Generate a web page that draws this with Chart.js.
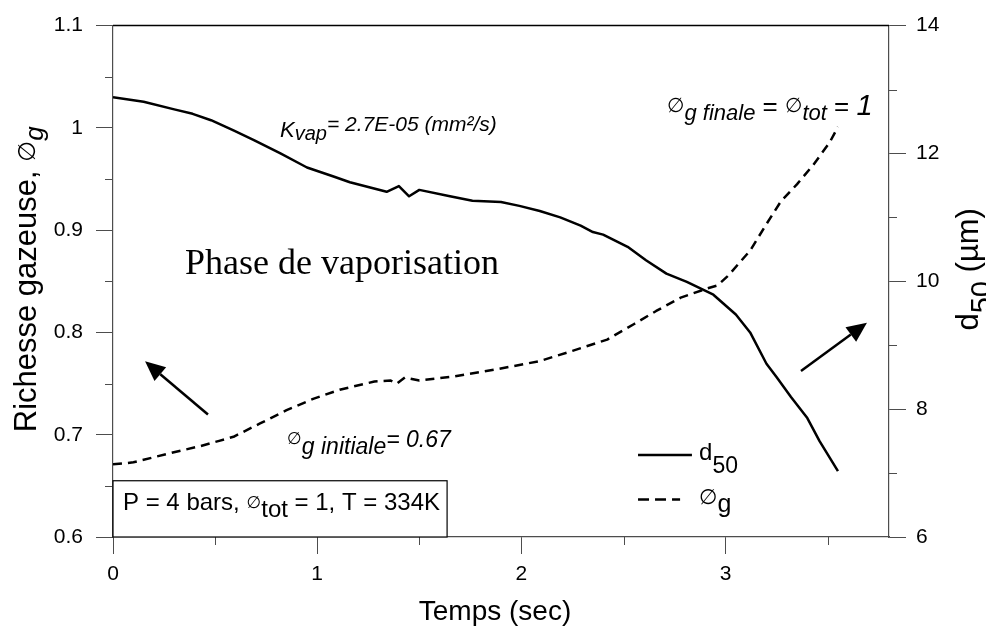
<!DOCTYPE html>
<html><head><meta charset="utf-8">
<script src="https://cdn.jsdelivr.net/npm/chart.js@4.4.1/dist/chart.umd.min.js"></script>
<style>html,body{margin:0;padding:0;background:#fff;overflow:hidden}canvas{display:block}</style>
</head><body>
<canvas id="c" width="986" height="630"></canvas>
<script>
// ---- data ----
const tD50 = [0, 0.15, 0.30, 0.39, 0.48, 0.59, 0.69, 0.82, 0.95, 1.08, 1.16, 1.34, 1.40, 1.45, 1.50, 1.65, 1.76, 1.90, 1.99, 2.09, 2.19, 2.29, 2.35, 2.40, 2.52, 2.61, 2.71, 2.81, 2.94, 3.05, 3.12, 3.20, 3.25, 3.32, 3.40, 3.46, 3.55];
const d50 = [12.88, 12.81, 12.69, 12.62, 12.52, 12.36, 12.21, 12.00, 11.78, 11.64, 11.55, 11.40, 11.49, 11.33, 11.43, 11.33, 11.26, 11.24, 11.18, 11.10, 11.00, 10.87, 10.77, 10.73, 10.54, 10.33, 10.12, 9.99, 9.79, 9.48, 9.20, 8.71, 8.50, 8.19, 7.86, 7.50, 7.03];
const tPhi = [0, 0.10, 0.26, 0.43, 0.52, 0.59, 0.72, 0.85, 0.98, 1.11, 1.28, 1.36, 1.39, 1.43, 1.50, 1.67, 1.88, 2.09, 2.25, 2.42, 2.55, 2.66, 2.78, 2.91, 2.96, 3.01, 3.12, 3.20, 3.27, 3.35, 3.43, 3.51, 3.55];
const phiG = [0.671, 0.673, 0.681, 0.689, 0.694, 0.698, 0.711, 0.724, 0.735, 0.744, 0.752, 0.753, 0.750, 0.756, 0.753, 0.757, 0.764, 0.772, 0.782, 0.793, 0.808, 0.821, 0.834, 0.843, 0.846, 0.855, 0.880, 0.906, 0.928, 0.945, 0.964, 0.986, 1.001];

const xTickValues = [0, 0.5, 1, 1.5, 2, 2.5, 3, 3.5];
const xTickLabels = ['0', '', '1', '', '2', '', '3', ''];
const leftTickValues = [0.6, 0.65, 0.7, 0.75, 0.8, 0.85, 0.9, 0.95, 1.0, 1.05, 1.1];
const leftTickLabels = ['0.6', '', '0.7', '', '0.8', '', '0.9', '', '1', '', '1.1'];
const rightTickValues = [6, 7, 8, 9, 10, 11, 12, 13, 14];
const rightTickLabels = ['6', '', '8', '', '10', '', '12', '', '14'];

// ---- styling ----
const SANS = "'Liberation Sans', Arial, sans-serif";
const SYM = "'DejaVu Sans', sans-serif";
const SERIF = "'Liberation Serif', 'Times New Roman', serif";
const AX = '#4d4d4d';
const MINOR_LEN = 8;

function rich(ctx, x, y, parts, rot, align) {
  ctx.save();
  ctx.translate(x, y);
  if (rot) ctx.rotate(rot);
  ctx.textBaseline = 'alphabetic';
  ctx.textAlign = 'left';
  ctx.fillStyle = '#000';
  let total = 0;
  for (const p of parts) { ctx.font = p.f; total += ctx.measureText(p.t).width + (p.dx || 0); }
  let cx = align === 'center' ? -total / 2 : 0;
  for (const p of parts) {
    ctx.font = p.f;
    cx += (p.dx || 0);
    ctx.fillText(p.t, cx, p.dy || 0);
    cx += ctx.measureText(p.t).width;
  }
  ctx.restore();
}

function arrow(ctx, x0, y0, x1, y1) {
  const ang = Math.atan2(y1 - y0, x1 - x0);
  const hl = 20, hw = 9;
  const bx = x1 - hl * Math.cos(ang), by = y1 - hl * Math.sin(ang);
  ctx.save();
  ctx.strokeStyle = '#000'; ctx.lineWidth = 2.5;
  ctx.beginPath(); ctx.moveTo(x0, y0); ctx.lineTo(bx, by); ctx.stroke();
  ctx.fillStyle = '#000';
  ctx.beginPath(); ctx.moveTo(x1, y1);
  ctx.lineTo(bx + hw * Math.sin(ang), by - hw * Math.cos(ang));
  ctx.lineTo(bx - hw * Math.sin(ang), by + hw * Math.cos(ang));
  ctx.closePath(); ctx.fill();
  ctx.restore();
}

const decor = {
  id: 'decor',
  afterDraw(chart) {
    const { ctx, chartArea: a, scales: { x, y, y1 } } = chart;
    const X = v => x.getPixelForValue(v), Y = v => y.getPixelForValue(v);
    // top frame line
    ctx.save();
    ctx.strokeStyle = '#000'; ctx.lineWidth = 1.5;
    ctx.beginPath(); ctx.moveTo(a.left, a.top); ctx.lineTo(a.right, a.top); ctx.stroke();
    // minor ticks
    ctx.strokeStyle = AX; ctx.lineWidth = 1;
    ctx.beginPath();
    xTickValues.forEach((v, i) => { if (!xTickLabels[i]) { const px = Math.round(X(v)) + 0.5; ctx.moveTo(px, a.bottom); ctx.lineTo(px, a.bottom + MINOR_LEN); } });
    leftTickValues.forEach((v, i) => { if (!leftTickLabels[i]) { const py = Math.round(Y(v)) + 0.5; ctx.moveTo(a.left, py); ctx.lineTo(a.left - MINOR_LEN, py); } });
    rightTickValues.forEach((v, i) => { if (!rightTickLabels[i]) { const py = Math.round(y1.getPixelForValue(v)) + 0.5; ctx.moveTo(a.right, py); ctx.lineTo(a.right + MINOR_LEN, py); } });
    ctx.stroke();
    ctx.restore();

    // parameter box
    const bx0 = a.left, by0 = Y(0.655), bx1 = X(1.636), by1 = a.bottom;
    ctx.save();
    ctx.fillStyle = '#fff'; ctx.fillRect(bx0, by0, bx1 - bx0, by1 - by0);
    ctx.strokeStyle = '#000'; ctx.lineWidth = 1.2; ctx.strokeRect(bx0, by0, bx1 - bx0, by1 - by0);
    ctx.restore();
    rich(ctx, X(0.049), Y(0.6261), [
      { t: 'P = 4 bars, ', f: `24px ${SANS}` },
      { t: '∅', f: `17px ${SYM}`, dy: -2 },
      { t: 'tot', f: `24px ${SANS}`, dy: 7 },
      { t: ' = 1, T = 334K', f: `24px ${SANS}` }
    ]);

    // annotations
    rich(ctx, X(0.818), Y(0.9967), [
      { t: 'K', f: `italic 22px ${SANS}`, dy: 6 },
      { t: 'vap', f: `italic 20px ${SANS}`, dy: 9 },
      { t: '= 2.7E-05 (mm²/s)', f: `italic 21px ${SANS}` }
    ]);
    rich(ctx, X(0.353), Y(0.8568), [{ t: 'Phase de vaporisation', f: `36px ${SERIF}` }]);
    rich(ctx, X(2.713), Y(1.0122), [
      { t: '∅', f: `20px ${SYM}`, dy: -3 },
      { t: 'g finale', f: `italic 22px ${SANS}`, dy: 5 },
      { t: ' = ', f: `26px ${SANS}` },
      { t: '∅', f: `20px ${SYM}`, dy: -3 },
      { t: 'tot', f: `italic 22px ${SANS}`, dy: 5 },
      { t: ' = ', f: `26px ${SANS}` },
      { t: '1', f: `italic 29px ${SANS}` }
    ]);
    rich(ctx, X(0.852), Y(0.6878), [
      { t: '∅', f: `17px ${SYM}`, dy: -3 },
      { t: 'g initiale', f: `italic 23px ${SANS}`, dy: 7 },
      { t: '= 0.67', f: `italic 23px ${SANS}` }
    ]);

    // arrows
    arrow(ctx, X(0.465), Y(0.7197), X(0.157), Y(0.7718));
    arrow(ctx, X(3.369), Y(0.7622), X(3.692), Y(0.8095));

    // legend
    ctx.save();
    ctx.strokeStyle = '#000'; ctx.lineWidth = 2.5;
    ctx.beginPath(); ctx.moveTo(X(2.571), Y(0.6801)); ctx.lineTo(X(2.835), Y(0.6801)); ctx.stroke();
    ctx.setLineDash([11, 6]);
    ctx.beginPath(); ctx.moveTo(X(2.571), Y(0.6367)); ctx.lineTo(X(2.777), Y(0.6367)); ctx.stroke();
    ctx.restore();
    rich(ctx, X(2.870), Y(0.6753), [
      { t: 'd', f: `24px ${SANS}` },
      { t: '50', f: `23px ${SANS}`, dy: 13 }
    ]);
    rich(ctx, X(2.870), Y(0.6319), [
      { t: '∅', f: `21px ${SYM}` },
      { t: 'g', f: `25px ${SANS}`, dy: 8 }
    ]);

    // axis titles
    const midY = (a.top + a.bottom) / 2;
    rich(ctx, a.left - 77, midY - 2, [
      { t: 'Richesse gazeuse, ', f: `31px ${SANS}` },
      { t: '∅', f: `24px ${SYM}`, dy: -1 },
      { t: 'g', f: `italic 26px ${SANS}`, dy: 7 }
    ], -Math.PI / 2, 'center');
    rich(ctx, a.right + 89, midY - 12, [
      { t: 'd', f: `31px ${SANS}` },
      { t: '50', f: `29px ${SANS}`, dy: 13 },
      { t: ' (µm)', f: `31px ${SANS}` }
    ], -Math.PI / 2, 'center');
    rich(ctx, (a.left + a.right) / 2 - 6, a.bottom + 83, [{ t: 'Temps (sec)', f: `28px ${SANS}` }], 0, 'center');
  }
};

function tickOpts(labels) {
  return {
    color: '#000',
    font: { family: SANS, size: 21 },
    autoSkip: false,
    maxRotation: 0,
    callback: (v, i) => labels[i]
  };
}
function gridOpts(labels) {
  return {
    drawOnChartArea: false,
    drawTicks: true,
    tickLength: 17,
    tickWidth: 1,
    tickColor: c => (labels[c.index] ? AX : 'rgba(0,0,0,0)')
  };
}

new Chart(document.getElementById('c'), {
  type: 'line',
  data: {
    datasets: [
      {
        label: 'd50',
        data: tD50.map((t, i) => ({ x: t, y: d50[i] })),
        yAxisID: 'y1',
        borderColor: '#000', borderWidth: 2.5, pointRadius: 0, tension: 0, fill: false,
        borderJoinStyle: 'round'
      },
      {
        label: 'phi_g',
        data: tPhi.map((t, i) => ({ x: t, y: phiG[i] })),
        yAxisID: 'y',
        borderColor: '#000', borderWidth: 2.5, borderDash: [9, 6], pointRadius: 0, tension: 0, fill: false,
        borderJoinStyle: 'round'
      }
    ]
  },
  options: {
    responsive: false,
    animation: false,
    devicePixelRatio: 1,
    layout: { padding: { top: 19, left: 0, right: 0, bottom: 0 } },
    plugins: { legend: { display: false }, tooltip: { enabled: false } },
    scales: {
      x: {
        type: 'linear', min: 0, max: 3.8,
        afterBuildTicks: s => { s.ticks = xTickValues.map(v => ({ value: v })); },
        afterFit: s => { s.height = 93; },
        ticks: Object.assign(tickOpts(xTickLabels), { padding: 8 }),
        grid: gridOpts(xTickLabels),
        border: { display: true, color: AX, width: 1.2 }
      },
      y: {
        type: 'linear', position: 'left', min: 0.6, max: 1.1,
        afterBuildTicks: s => { s.ticks = leftTickValues.map(v => ({ value: v })); },
        afterFit: s => { s.width = 113; },
        ticks: Object.assign(tickOpts(leftTickLabels), { padding: 13 }),
        grid: gridOpts(leftTickLabels),
        border: { display: true, color: AX, width: 1.2 }
      },
      y1: {
        type: 'linear', position: 'right', min: 6, max: 14,
        afterBuildTicks: s => { s.ticks = rightTickValues.map(v => ({ value: v })); },
        afterFit: s => { s.width = 97; },
        ticks: Object.assign(tickOpts(rightTickLabels), { padding: 10 }),
        grid: gridOpts(rightTickLabels),
        border: { display: true, color: AX, width: 1.2 }
      }
    }
  },
  plugins: [decor]
});
</script>
</body></html>
